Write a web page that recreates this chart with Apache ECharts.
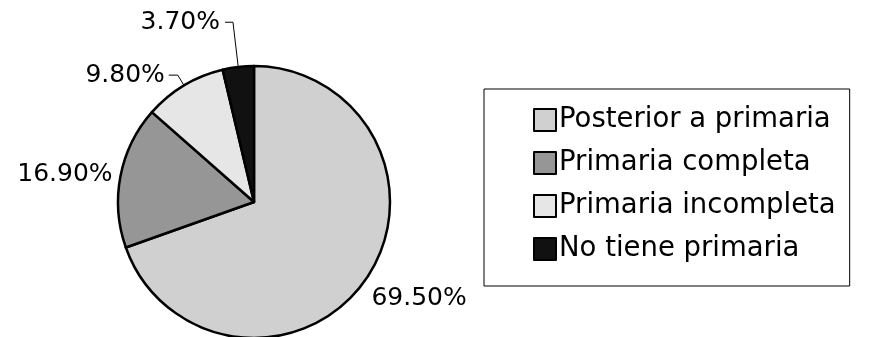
<!DOCTYPE html>
<html>
<head>
<meta charset="utf-8" />
<title>pie</title>
<script src="https://cdn.jsdelivr.net/npm/echarts@6/dist/echarts.min.js"></script>
<style>
  html, body { margin: 0; padding: 0; background: #fff; }
  #main { width: 876px; height: 337px; }
</style>
</head>
<body>
<div id="main"></div>
<script type="text/javascript">
// data
var categories = ['Posterior a primaria', 'Primaria completa', 'Primaria incompleta', 'No tiene primaria'];
var values = [69.5, 16.9, 9.8, 3.7];
var colors = ['#d0d0d0', '#969696', '#e6e6e6', '#111111'];

// per-slice label tweaks (line lengths, whether the leader line shows)
var lineLen = [31, 8, 12, 45];
var lineLen2 = [0, 0, 9, 8];
var lineShow = [false, false, true, true];
var labelGap = [5, 0, 4, 5];

var chart = echarts.init(document.getElementById('main'));

var pieData = [];
for (var i = 0; i < categories.length; i++) {
  pieData.push({
    name: categories[i],
    value: values[i],
    itemStyle: { color: colors[i] },
    label: { distanceToLabelLine: labelGap[i] },
    labelLine: { show: lineShow[i], length: lineLen[i], length2: lineLen2[i] }
  });
}

chart.setOption({
  animation: false,
  backgroundColor: '#fff',
  legend: {
    orient: 'vertical',
    left: 484,
    top: 89,
    icon: 'rect',
    itemWidth: 22,
    itemHeight: 22,
    itemGap: 15,
    padding: [17, 14, 23, 49],
    borderColor: '#000',
    borderWidth: 1,
    itemStyle: { borderColor: '#000', borderWidth: 2 },
    textStyle: { fontFamily: 'DejaVu Sans', fontSize: 27.5, lineHeight: 28, color: '#000', padding: [0, 0, 0, -2] },
    data: categories
  },
  series: [{
    type: 'pie',
    center: [254, 202],
    radius: 136,
    startAngle: 90,
    clockwise: true,
    avoidLabelOverlap: false,
    itemStyle: { borderColor: '#000', borderWidth: 2.5 },
    emphasis: { disabled: true },
    label: {
      position: 'outside',
      fontFamily: 'DejaVu Sans',
      fontSize: 25,
      color: '#000',
      formatter: function (p) { return p.value.toFixed(2) + '%'; }
    },
    labelLine: { lineStyle: { color: '#000', width: 1 } },
    labelLayout: function (p) {
      if (p.dataIndex === 0) return { dx: -24 };
      return {};
    },
    data: pieData
  }]
});
</script>
</body>
</html>
